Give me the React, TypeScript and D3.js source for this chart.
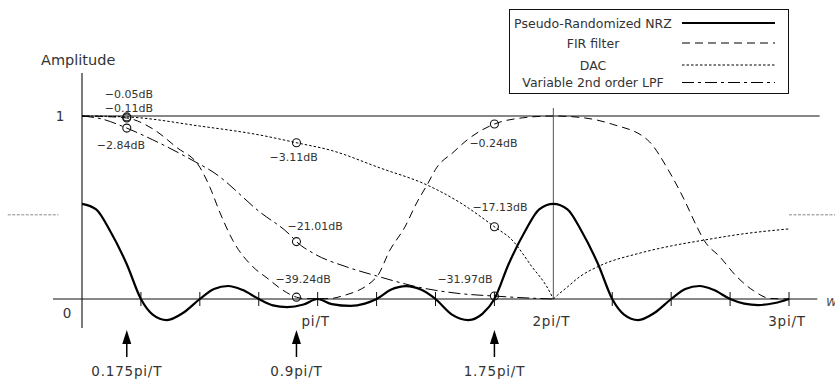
import React, { useEffect, useRef } from "react";
import * as d3 from "d3";

// x is in units of pi/T, y is amplitude
const nrzPoints: [number, number][] = [
  [0, 0.52], [0.06, 0.49], [0.12, 0.37], [0.19, 0.19], [0.25, 0],
  [0.3, -0.085], [0.36, -0.115], [0.43, -0.075], [0.5, 0],
  [0.56, 0.055], [0.62, 0.071], [0.68, 0.05], [0.75, 0],
  [0.81, -0.035], [0.87, -0.044], [0.94, -0.03], [1.0, 0],
  [1.06, -0.028], [1.14, -0.038], [1.2, -0.025], [1.25, 0],
  [1.31, 0.05], [1.375, 0.07], [1.44, 0.05], [1.5, 0],
  [1.57, -0.085], [1.64, -0.115], [1.7, -0.08], [1.75, 0],
  [1.81, 0.19], [1.88, 0.37], [1.94, 0.49], [2.0, 0.52],
  [2.06, 0.49], [2.12, 0.37], [2.19, 0.19], [2.25, 0],
  [2.3, -0.085], [2.36, -0.115], [2.43, -0.075], [2.5, 0],
  [2.56, 0.055], [2.62, 0.071], [2.68, 0.05], [2.75, 0],
  [2.81, -0.025], [2.87, -0.033], [2.94, -0.022], [3.0, 0],
];

const firPoints: [number, number][] = [
  [0, 1], [0.1, 0.997], [0.19, 0.989], [0.3, 0.93], [0.4, 0.83],
  [0.5, 0.72], [0.543, 0.61], [0.586, 0.47], [0.64, 0.32], [0.726, 0.175],
  [0.785, 0.115], [0.85, 0.05], [0.91, 0.01], [0.95, 0.002], [1.05, 0.002],
  [1.1, 0.015], [1.25, 0.12], [1.307, 0.268], [1.37, 0.393], [1.42, 0.525],
  [1.464, 0.623], [1.506, 0.72], [1.574, 0.8], [1.634, 0.869], [1.75, 0.956],
  [1.87, 0.99], [2.0, 1], [2.13, 0.99], [2.25, 0.955], [2.4, 0.869],
  [2.495, 0.689], [2.55, 0.557], [2.61, 0.393], [2.64, 0.32], [2.707, 0.23],
  [2.78, 0.12], [2.85, 0.045], [2.92, 0.003], [3.0, 0],
];

const dacPoints: [number, number][] = [
  [0, 1], [0.19, 0.995], [0.5, 0.945], [0.755, 0.896], [0.917, 0.852],
  [1.052, 0.814], [1.265, 0.716], [1.464, 0.623], [1.6, 0.53], [1.752, 0.393],
  [1.825, 0.322], [1.91, 0.175], [1.973, 0.066], [2.0, 0],
];

const dacReturnPoints: [number, number][] = [
  [2.0, 0], [2.017, 0.02], [2.06, 0.066], [2.11, 0.12], [2.198, 0.182],
  [2.368, 0.251], [2.5, 0.29], [2.64, 0.322], [2.8, 0.355], [3.0, 0.383],
];

const lpfPoints: [number, number][] = [
  [0, 1], [0.08, 0.985], [0.19, 0.934], [0.3, 0.87], [0.48, 0.75],
  [0.556, 0.694], [0.755, 0.475], [0.883, 0.35], [0.912, 0.311], [0.98, 0.251],
  [1.124, 0.175], [1.25, 0.126], [1.434, 0.063], [1.6, 0.03], [1.75, 0.016],
  [1.9, 0.005], [2.0, 0],
];

const legendLabels = ["Pseudo-Randomized NRZ", "FIR filter", "DAC", "Variable 2nd order LPF"];

const markerX = [0.19, 0.91, 1.75];
const arrowLabels = ["0.175pi/T", "0.9pi/T", "1.75pi/T"];

const dbSeries = ["fir", "dac", "lpf", "dac", "lpf", "fir", "fir", "dac", "lpf"];
const dbMarker = [0, 0, 0, 1, 1, 1, 2, 2, 2];
const dbLabels = ["−0.05dB", "−0.11dB", "−2.84dB", "−3.11dB", "−21.01dB", "−39.24dB", "−0.24dB", "−17.13dB", "−31.97dB"];

const xTickLabelValues = [1, 2, 3];
const xTickLabels = ["pi/T", "2pi/T", "3pi/T"];

const W = 835;
const H = 379;

function valueAt(pts: [number, number][], xv: number) {
  const i = d3.bisector((d: [number, number]) => d[0]).left(pts, xv);
  if (i <= 0) return pts[0][1];
  if (i >= pts.length) return pts[pts.length - 1][1];
  const a = pts[i - 1];
  const b = pts[i];
  return a[1] + ((b[1] - a[1]) * (xv - a[0])) / (b[0] - a[0]);
}

export default function App() {
  const svgRef = useRef<SVGSVGElement | null>(null);

  useEffect(() => {
    if (!svgRef.current) return;
    const svg = d3.select(svgRef.current);
    svg.selectAll("*").remove();

    const font = "DejaVu Sans, sans-serif";
    const textColor = "#333";

    const x = d3.scaleLinear().domain([0, 3]).range([82, 789]);
    const y = d3.scaleLinear().domain([0, 1]).range([299, 116]);

    const line = d3
      .line<[number, number]>()
      .x((d) => x(d[0]))
      .y((d) => y(d[1]))
      .curve(d3.curveMonotoneX);

    // grey dashed stubs at the edges
    svg.append("line")
      .attr("x1", x(-0.315)).attr("x2", x(-0.1))
      .attr("y1", y(0.46)).attr("y2", y(0.46))
      .attr("stroke", "#888").attr("stroke-width", 1).attr("stroke-dasharray", "3,1.5");
    svg.append("line")
      .attr("x1", x(3.0)).attr("x2", x(3.2))
      .attr("y1", y(0.46)).attr("y2", y(0.46))
      .attr("stroke", "#888").attr("stroke-width", 1).attr("stroke-dasharray", "3,1.5");

    // axes
    svg.append("line")
      .attr("x1", x(0)).attr("x2", x(0))
      .attr("y1", 73).attr("y2", 328)
      .attr("stroke", "#222").attr("stroke-width", 1.2);
    svg.append("line")
      .attr("x1", x(-0.123)).attr("x2", x(3.12))
      .attr("y1", y(0)).attr("y2", y(0))
      .attr("stroke", "#111").attr("stroke-width", 1.2);
    svg.append("line")
      .attr("x1", x(0)).attr("x2", x(3.13))
      .attr("y1", y(1)).attr("y2", y(1))
      .attr("stroke", "#111").attr("stroke-width", 1.2);
    svg.append("line")
      .attr("x1", x(2)).attr("x2", x(2))
      .attr("y1", 108).attr("y2", y(0))
      .attr("stroke", "#555").attr("stroke-width", 1);

    const ticks = d3.range(1, 13).map((k) => k * 0.25).filter((t) => t !== 2);
    svg.append("g")
      .selectAll("line")
      .data(ticks)
      .join("line")
      .attr("x1", (d) => x(d)).attr("x2", (d) => x(d))
      .attr("y1", y(0) - 7).attr("y2", y(0) + 7)
      .attr("stroke", "#111").attr("stroke-width", 1);

    // y tick labels
    svg.append("text").text("1")
      .attr("x", 60).attr("y", y(1) + 5)
      .attr("text-anchor", "middle")
      .attr("font-family", font).attr("font-size", 13.5).attr("fill", textColor);
    svg.append("text").text("0")
      .attr("x", 67).attr("y", y(0) + 19)
      .attr("text-anchor", "middle")
      .attr("font-family", font).attr("font-size", 13.5).attr("fill", textColor);

    svg.append("text").text("Amplitude")
      .attr("x", 41).attr("y", 65)
      .attr("font-family", font).attr("font-size", 14.5).attr("fill", textColor);

    // x tick labels
    svg.append("g")
      .selectAll("text")
      .data(xTickLabelValues)
      .join("text")
      .text((_, i) => xTickLabels[i])
      .attr("x", (d) => x(d) - 2)
      .attr("y", y(0) + 27)
      .attr("text-anchor", "middle")
      .attr("font-family", font).attr("font-size", 13.5)
      .attr("letter-spacing", 0.8).attr("fill", textColor);

    svg.append("text").text("w")
      .attr("x", 826).attr("y", 306)
      .attr("font-family", font).attr("font-size", 14)
      .attr("font-style", "italic").attr("fill", "#555");

    // curves
    const curveStyles = [
      { data: nrzPoints, width: 2.2, dash: null },
      { data: firPoints, width: 1, dash: "8,5" },
      { data: dacPoints, width: 1, dash: "2.5,2" },
      { data: dacReturnPoints, width: 1, dash: "2.5,2" },
      { data: lpfPoints, width: 1, dash: "12,4,3,4" },
    ];
    curveStyles.forEach((c) => {
      svg.append("path")
        .attr("d", line(c.data))
        .attr("fill", "none")
        .attr("stroke", "#000")
        .attr("stroke-width", c.width)
        .attr("stroke-dasharray", c.dash);
    });

    // markers and dB labels
    const seriesMap: Record<string, [number, number][]> = {
      fir: firPoints,
      dac: dacPoints,
      lpf: lpfPoints,
    };
    const labelOffsets = [
      [-22, -20], [-22, -5], [-30, 21], [-27, 18], [-9, -12],
      [-21, -14], [-25, 23], [-22, -16], [-57, -13],
    ];
    dbLabels.forEach((lab, i) => {
      const xv = markerX[dbMarker[i]];
      const cx = x(xv);
      const cy = y(valueAt(seriesMap[dbSeries[i]], xv));
      svg.append("circle")
        .attr("cx", cx).attr("cy", cy).attr("r", 4)
        .attr("fill", "none").attr("stroke", "#111").attr("stroke-width", 1.1);
      svg.append("text").text(lab)
        .attr("x", cx + labelOffsets[i][0])
        .attr("y", cy + labelOffsets[i][1])
        .attr("font-family", font).attr("font-size", 11).attr("fill", textColor);
    });

    // arrows
    markerX.forEach((xv, i) => {
      const ax = x(xv);
      svg.append("path")
        .attr("d", `M${ax},330 L${ax - 4.5},344 L${ax + 4.5},344 Z`)
        .attr("fill", "#000");
      svg.append("line")
        .attr("x1", ax).attr("x2", ax).attr("y1", 342).attr("y2", 357)
        .attr("stroke", "#000").attr("stroke-width", 1.5);
      svg.append("text").text(arrowLabels[i])
        .attr("x", ax).attr("y", 376)
        .attr("text-anchor", "middle")
        .attr("font-family", font).attr("font-size", 13.5)
        .attr("letter-spacing", 0.8).attr("fill", textColor);
    });

    // legend
    const lg = svg.append("g");
    lg.append("rect")
      .attr("x", 509.5).attr("y", 9.5).attr("width", 279).attr("height", 84)
      .attr("fill", "#fff").attr("stroke", "#111").attr("stroke-width", 1);
    const legendY = [23, 43, 65, 82.5];
    const legendDash = [null, "8,5", "2.5,2", "12,4,3,4"];
    const legendWidth = [2.2, 1, 1, 1];
    legendLabels.forEach((lab, i) => {
      lg.append("text").text(lab)
        .attr("x", 593).attr("y", legendY[i] + 4.5)
        .attr("text-anchor", "middle")
        .attr("font-family", font).attr("font-size", 12.5).attr("fill", textColor);
      lg.append("line")
        .attr("x1", 682).attr("x2", 775)
        .attr("y1", legendY[i]).attr("y2", legendY[i])
        .attr("stroke", "#000").attr("stroke-width", legendWidth[i])
        .attr("stroke-dasharray", legendDash[i]);
    });
  }, []);

  return (
    <svg
      ref={svgRef}
      width={W}
      height={H}
      style={{ position: "absolute", left: 0, top: 0, background: "#fff" }}
    />
  );
}
